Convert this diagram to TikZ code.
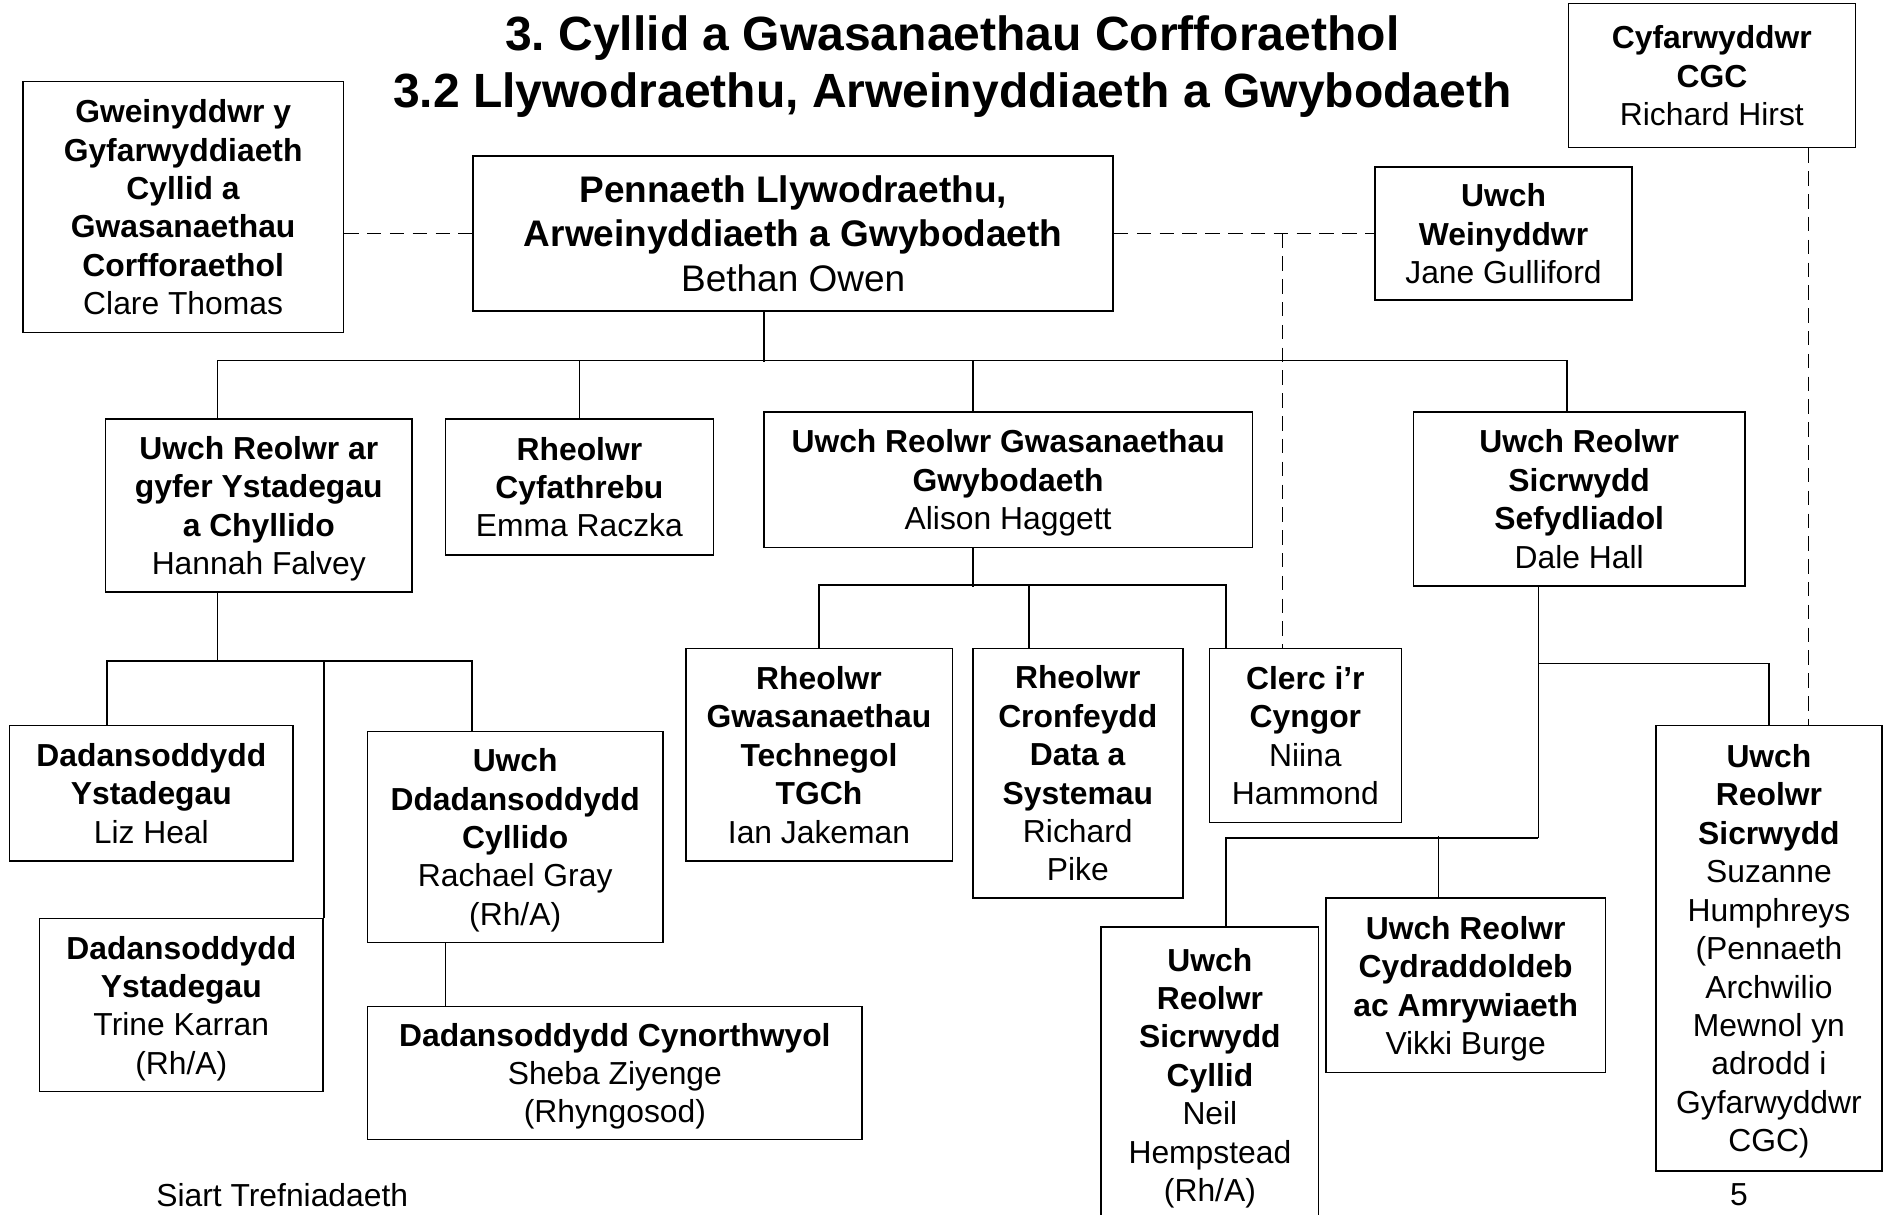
\documentclass[tikz,border=0pt]{standalone}
\usepackage{fontspec}
\setmainfont{Liberation Sans}
\usetikzlibrary{calc}

\begin{document}
\begin{tikzpicture}[x=1pt,y=-1pt,
  font=\fontsize{26.5}{32}\selectfont,
  role/.style={draw,line width=1.3pt,align=center,inner sep=0pt,text depth=-6pt},
  wh/.style 2 args={minimum width=#1pt,minimum height=#2pt},
  link/.style={line width=1.3pt},
  dashlink/.style={line width=1.3pt,dash pattern=on 12pt off 7pt}]
\useasboundingbox (0,0) rectangle (1568,1011);
\node[font=\fontsize{40}{47}\selectfont\bfseries,align=center] (title) at (793,55.5)
  {3.\ Cyllid a Gwasanaethau Corfforaethol\\3.2 Llywodraethu, Arweinyddiaeth a Gwybodaeth};
\node[role,wh={267}{209}] (gwein) at (152.5,172.5)
  {\textbf{Gweinyddwr y}\\\textbf{Gyfarwyddiaeth}\\\textbf{Cyllid a}\\\textbf{Gwasanaethau}\\\textbf{Corfforaethol}\\Clare Thomas};
\node[role,wh={533}{129},font=\fontsize{30.8}{37}\selectfont] (head) at (660.5,194.5)
  {\textbf{Pennaeth Llywodraethu,}\\\textbf{Arweinyddiaeth a Gwybodaeth}\\Bethan Owen};
\node[role,wh={239}{120}] (cgc) at (1425.5,63)
  {\textbf{Cyfarwyddwr}\\\textbf{CGC}\\Richard Hirst};
\node[role,wh={214}{111}] (senadm) at (1252,194.5)
  {\textbf{Uwch}\\\textbf{Weinyddwr}\\Jane Gulliford};
% second row
\node[role,wh={255}{144}] (stats) at (215.5,421)
  {\textbf{Uwch Reolwr ar}\\\textbf{gyfer Ystadegau}\\\textbf{a Chyllido}\\Hannah Falvey};
\node[role,wh={223}{113}] (comms) at (482.5,405.5)
  {\textbf{Rheolwr}\\\textbf{Cyfathrebu}\\Emma Raczka};
\node[role,wh={407}{113}] (know) at (839.5,399.5)
  {\textbf{Uwch Reolwr Gwasanaethau}\\\textbf{Gwybodaeth}\\Alison Haggett};
\node[role,wh={276}{145}] (assur) at (1315,415.5)
  {\textbf{Uwch Reolwr}\\\textbf{Sicrwydd}\\\textbf{Sefydliadol}\\Dale Hall};
% third row
\node[role,wh={236}{113}] (liz) at (126,660.5)
  {\textbf{Dadansoddydd}\\\textbf{Ystadegau}\\Liz Heal};
\node[role,wh={236}{144}] (trine) at (151,837)
  {\textbf{Dadansoddydd}\\\textbf{Ystadegau}\\Trine Karran\\(Rh/A)};
\node[role,wh={246}{176}] (rachael) at (429,697)
  {\textbf{Uwch}\\\textbf{Ddadansoddydd}\\\textbf{Cyllido}\\Rachael Gray\\(Rh/A)};
\node[role,wh={412}{111}] (sheba) at (512,893.5)
  {\textbf{Dadansoddydd Cynorthwyol}\\Sheba Ziyenge\\(Rhyngosod)};
\node[role,wh={222}{177}] (ian) at (682,628.5)
  {\textbf{Rheolwr}\\\textbf{Gwasanaethau}\\\textbf{Technegol}\\\textbf{TGCh}\\Ian Jakeman};
\node[role,wh={175}{208}] (pike) at (897.5,644)
  {\textbf{Rheolwr}\\\textbf{Cronfeydd}\\\textbf{Data a}\\\textbf{Systemau}\\Richard\\Pike};
\node[role,wh={160}{145}] (clerk) at (1087,612.5)
  {\textbf{Clerc i’r}\\\textbf{Cyngor}\\Niina\\Hammond};
\node[role,wh={181}{246}] (neil) at (1007.5,895)
  {\textbf{Uwch}\\\textbf{Reolwr}\\\textbf{Sicrwydd}\\\textbf{Cyllid}\\Neil\\Hempstead\\(Rh/A)};
\node[role,wh={233}{145}] (vikki) at (1220.5,820.5)
  {\textbf{Uwch Reolwr}\\\textbf{Cydraddoldeb}\\\textbf{ac Amrywiaeth}\\Vikki Burge};
\node[role,wh={188}{371}] (suzanne) at (1473,789.5)
  {\textbf{Uwch}\\\textbf{Reolwr}\\\textbf{Sicrwydd}\\Suzanne\\Humphreys\\(Pennaeth\\Archwilio\\Mewnol yn\\adrodd i\\Gyfarwyddwr\\CGC)};
\node[anchor=west,inner sep=0pt] (footer) at (130,995) {Siart Trefniadaeth};
\node (page) at (1448,995) {5};
% solid lines
\draw[link] ($(head.south)+(-24.5,0)$) -- ++(0,42);
\draw[link] ($(stats.north)+(-34.5,0)$) |- ($(assur.north)+(-10,-42)$) -- ($(assur.north)+(-10,0)$);
\draw[link] (comms.north) -- ++(0,-48);
\draw[link] ($(know.north)+(-29.5,0)$) -- ++(0,-42);
\draw[link] ($(know.south)+(-29.5,0)$) -- ++(0,32);
\draw[link] (ian.north) |- ($(clerk.north)+(-66,-52)$) -- ($(clerk.north)+(-66,0)$);
\draw[link] ($(pike.north)+(-40.5,0)$) -- ++(0,-52);
\draw[link] ($(stats.south)+(-34.5,0)$) -- ++(0,58);
\draw[link] ($(liz.north)+(-37,0)$) |- ($(rachael.north)+(-36,-58)$) -- ($(rachael.north)+(-36,0)$);
\draw[link] (trine.north east) -- ++(0,-214);
\draw[link] ($(rachael.south)+(-58,0)$) -- ++(0,53);
\draw[link] ($(assur.south)+(-34,0)$) -- ++(0,209);
\draw[link] (suzanne.north) |- ($(assur.south)+(-34,64)$);
\draw[link] ($(neil.north)+(13.5,0)$) |- ($(assur.south)+(-34,209)$);
\draw[link] ($(vikki.north)+(-22.5,0)$) -- ++(0,-51);
% dashed lines
\draw[dashlink] (gwein.east |- head.west) -- (head.west);
\draw[dashlink] (head.east) -- (senadm.west);
\coordinate (clerk link) at ($(clerk.north)+(-19,0)$);
\draw[dashlink] (clerk link |- head.east) -- (clerk link);
\coordinate (cgc link) at ($(cgc.south)+(80.5,0)$);
\draw[dashlink] (cgc link) -- (cgc link |- suzanne.north);
\end{tikzpicture}
\end{document}
